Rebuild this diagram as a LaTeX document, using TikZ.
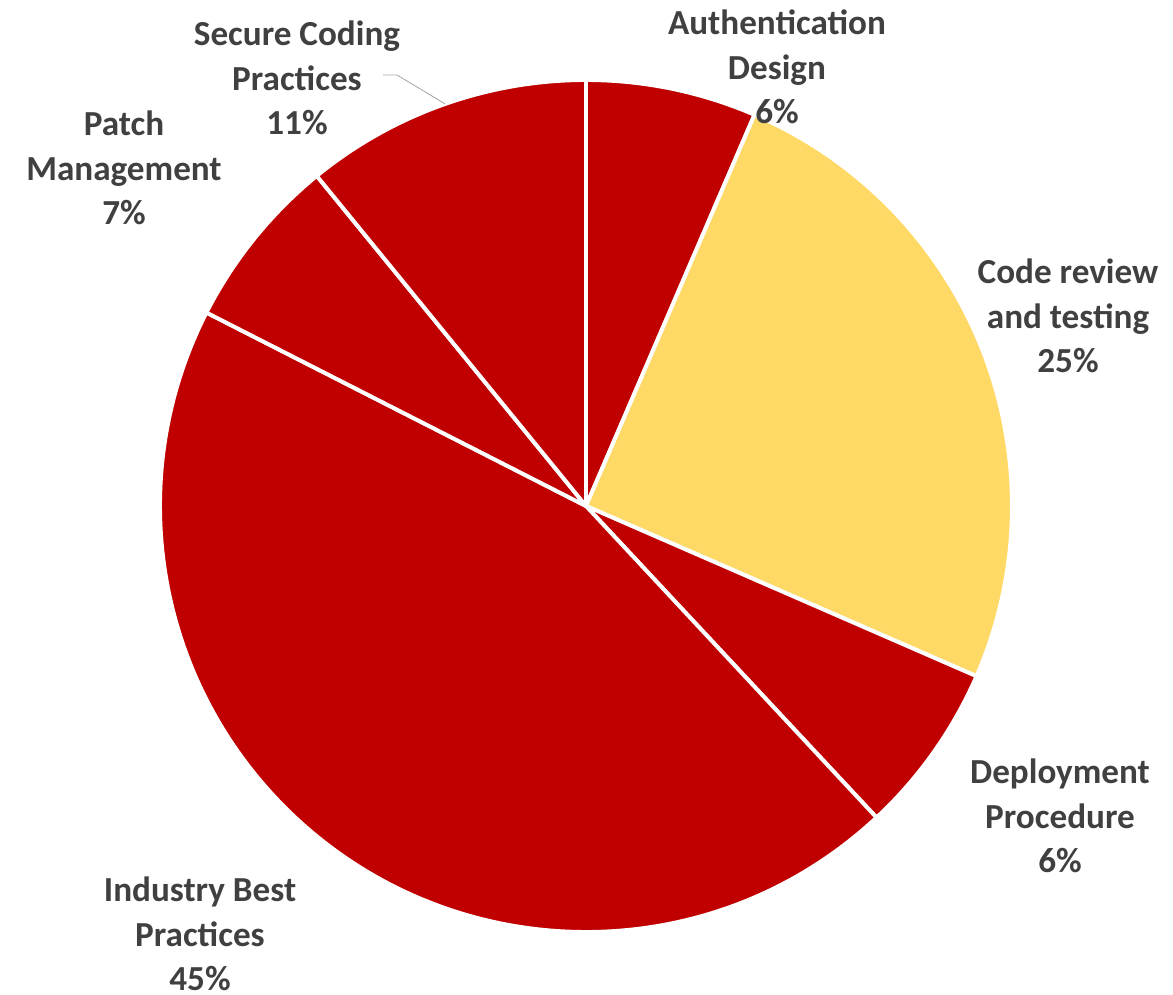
\documentclass[tikz,border=0pt]{standalone}
\usepackage{fontspec}
\setmainfont{Carlito}
\usepackage{xcolor}
\usetikzlibrary{positioning, calc}
\definecolor{slicered}{RGB}{192, 0, 0}
\definecolor{sliceyellow}{RGB}{255, 217, 102}
\definecolor{labelgray}{RGB}{64, 64, 64}

\begin{document}
\begin{tikzpicture}[x=0.025cm, y=0.025cm,
        slice/.style={draw=white, line width=2.8pt, line join=round},
        lbl/.style={align=center, text=labelgray, font=\fontsize{25}{31.5}\selectfont\bfseries, inner sep=0pt}]
    \useasboundingbox (0,0) rectangle (1173,995);
    \coordinate (c) at (586,489);
    % slices, clockwise from the top
    \filldraw[slice, fill=slicered] (c) -- ++(90:426) arc[start angle=90, end angle=66.7, radius=426] -- cycle;
    \filldraw[slice, fill=sliceyellow] (c) -- ++(66.7:426) arc[start angle=66.7, end angle=-23.55, radius=426] -- cycle;
    \filldraw[slice, fill=slicered] (c) -- ++(-23.55:426) arc[start angle=-23.55, end angle=-47, radius=426] -- cycle;
    \filldraw[slice, fill=slicered] (c) -- ++(-47:426) arc[start angle=-47, end angle=-207, radius=426] -- cycle;
    \filldraw[slice, fill=slicered] (c) -- ++(-207:426) arc[start angle=-207, end angle=-230.8, radius=426] -- cycle;
    \filldraw[slice, fill=slicered] (c) -- ++(-230.8:426) arc[start angle=-230.8, end angle=-270, radius=426] -- cycle;
    % labels
    \node[lbl] (auth) at (777,928) {Authentication\\Design\\6\%};
    \node[lbl] (code) at (1068,679) {Code review\\and testing\\25\%};
    \node[lbl] (deploy) at (1060,179) {Deployment\\Procedure\\6\%};
    \node[lbl] (industry) at (200,61) {Industry Best\\Practices\\45\%};
    \node[lbl] (patch) at (124,827) {Patch\\Management\\7\%};
    \node[lbl] (secure) at (297,917) {Secure Coding\\Practices\\11\%};
    % leader line
    \coordinate (securetip) at ($(c)+(109.3:426)$);
    \coordinate (securebend) at (397,920);
    \coordinate (securestart) at (383,920);
    \draw[gray!70, line width=0.6pt] (securestart) -- (securebend) -- (securetip);
\end{tikzpicture}
\end{document}
